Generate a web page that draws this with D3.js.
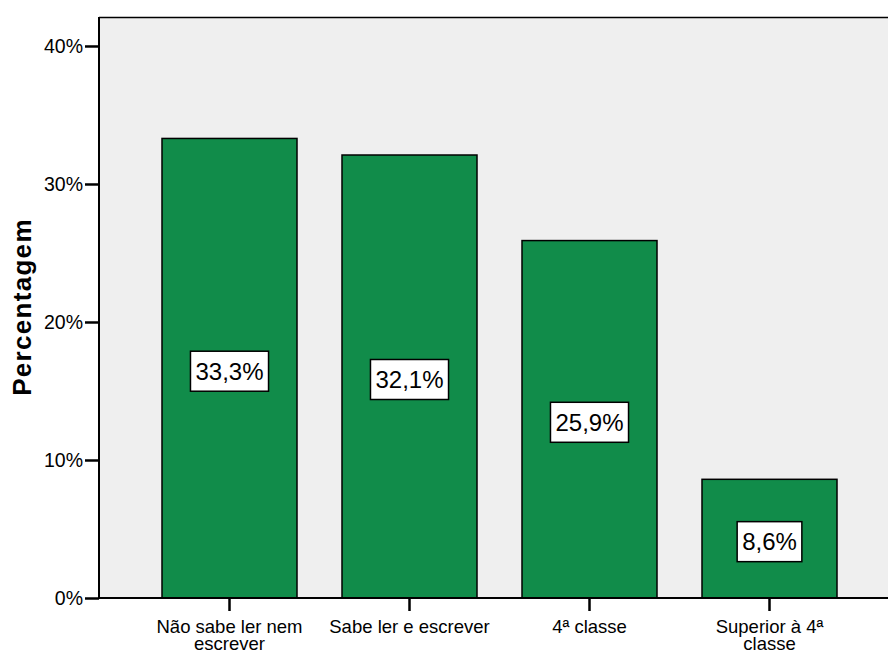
<!DOCTYPE html>
<html>
<head>
<meta charset="utf-8">
<script src="https://cdn.jsdelivr.net/npm/d3@7"></script>
<style>
  body { margin: 0; background: #fff; }
  svg { display: block; font-family: "Liberation Sans", Arial, sans-serif; }
</style>
</head>
<body>
<svg id="chart" width="888" height="652"></svg>
<script>
const categories = [["Não sabe ler nem", "escrever"], ["Sabe ler e escrever"], ["4ª classe"], ["Superior à 4ª", "classe"]];
const values = [33.3, 32.1, 25.9, 8.6];
const valueLabels = ["33,3%", "32,1%", "25,9%", "8,6%"];
const yTicks = [0, 10, 20, 30, 40];
const yTickLabels = ["0%", "10%", "20%", "30%", "40%"];

(function () {
const svg = d3.select("#chart");
const plotLeft = 99, plotRight = 900, plotTop = 17, plotBottom = 598;

const x = d3.scaleBand()
  .domain(d3.range(values.length))
  .range([plotLeft, plotRight])
  .paddingInner(0.25)
  .paddingOuter(0.35);

const y = d3.scaleLinear().domain([0, 42.1]).range([plotBottom, plotTop]);

// plot background
svg.append("rect")
  .attr("x", plotLeft).attr("y", plotTop)
  .attr("width", plotRight - plotLeft).attr("height", plotBottom - plotTop)
  .attr("fill", "#efefef");

// frame: top edge
svg.append("line").attr("x1", plotLeft).attr("x2", plotRight).attr("y1", plotTop + 0.5).attr("y2", plotTop + 0.5)
  .attr("stroke", "#000").attr("stroke-width", 1.5);

// bars
svg.selectAll("rect.bar").data(values).enter().append("rect")
  .attr("class", "bar")
  .attr("x", (d, i) => x(i))
  .attr("y", d => y(d))
  .attr("width", x.bandwidth())
  .attr("height", d => plotBottom - y(d))
  .attr("fill", "#118c4a")
  .attr("stroke", "#000")
  .attr("stroke-width", 1.5);

// y axis
const yAxis = d3.axisLeft(y)
  .tickValues(yTicks)
  .tickFormat((d, i) => yTickLabels[i])
  .tickSize(14)
  .tickPadding(2);
const gy = svg.append("g").attr("transform", `translate(${plotLeft},0)`).call(yAxis);
gy.select(".domain").attr("stroke", "#000").attr("stroke-width", 2).attr("d", `M0,${plotTop}V${plotBottom}`);
gy.selectAll(".tick line").attr("stroke", "#000").attr("stroke-width", 2.5);
gy.selectAll(".tick text").attr("font-size", "19.5px").attr("fill", "#000")
  .attr("font-family", "Liberation Sans, Arial, sans-serif");

// x axis
const xAxis = d3.axisBottom(x).tickSize(13).tickFormat("");
const gx = svg.append("g").attr("transform", `translate(0,${plotBottom})`).call(xAxis);
gx.select(".domain").attr("stroke", "#000").attr("stroke-width", 2).attr("d", `M${plotLeft},0H${plotRight}`);
gx.selectAll(".tick line").attr("stroke", "#000").attr("stroke-width", 2.5);

// category labels (multi-line)
const catG = svg.append("g");
categories.forEach((lines, i) => {
  const cx = x(i) + x.bandwidth() / 2;
  const t = catG.append("text")
    .attr("x", cx)
    .attr("y", 633)
    .attr("text-anchor", "middle")
    .attr("font-size", "18.5px")
    .attr("fill", "#000");
  lines.forEach((ln, j) => {
    t.append("tspan").attr("x", cx).attr("dy", j === 0 ? 0 : 17).text(ln);
  });
});

// value labels in boxes at bar mid-height
const lab = svg.append("g");
values.forEach((v, i) => {
  const cx = x(i) + x.bandwidth() / 2;
  const cy = y(v / 2) + 3;
  const g = lab.append("g");
  const rect = g.append("rect");
  const t = g.append("text")
    .attr("x", cx).attr("y", cy + 8.5)
    .attr("text-anchor", "middle")
    .attr("font-size", "24px")
    .attr("fill", "#000")
    .text(valueLabels[i]);
  const w = t.node().getComputedTextLength();
  rect.attr("x", cx - w / 2 - 5)
    .attr("y", cy - 20)
    .attr("width", w + 10)
    .attr("height", 40)
    .attr("fill", "#fff")
    .attr("stroke", "#000")
    .attr("stroke-width", 1.5);
});

// y axis title
svg.append("text")
  .attr("transform", "translate(31,307) rotate(-90)")
  .attr("text-anchor", "middle")
  .attr("font-size", "26px")
  .attr("font-weight", "bold")
  .attr("letter-spacing", "1.3px")
  .attr("fill", "#000")
  .text("Percentagem");
})();
</script>
</body>
</html>
